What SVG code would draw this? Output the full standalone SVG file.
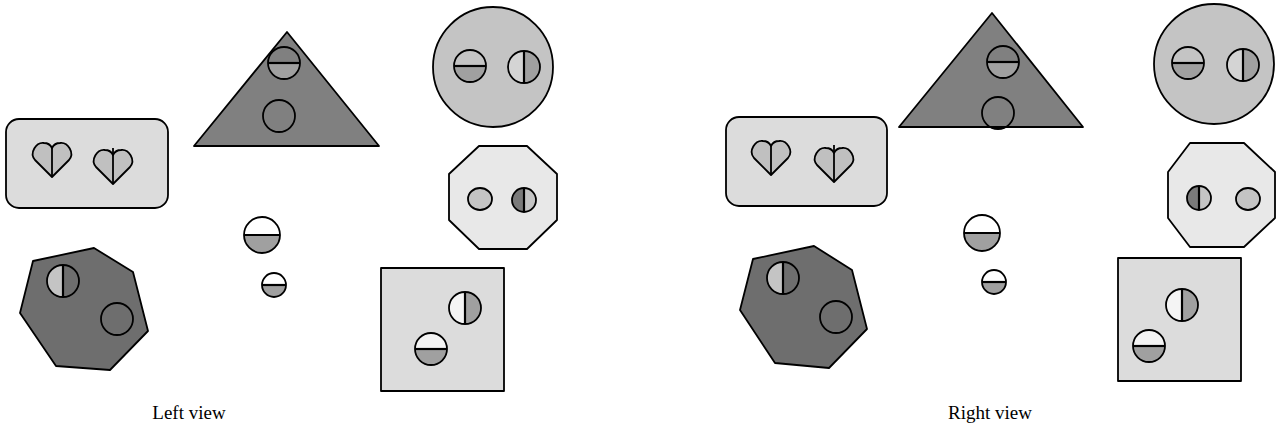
<svg xmlns="http://www.w3.org/2000/svg" width="1278" height="427" viewBox="0 0 1278 427">
<style>
.s{stroke:#000;stroke-width:1.8;stroke-linejoin:round}
.l{stroke:#000;stroke-width:2.2;fill:none}
.hl{stroke:#000;stroke-width:1.8;fill:none}
.o{fill:none;stroke:#000;stroke-width:1.8}
.lbl{font-family:"Liberation Serif","Times New Roman",serif;font-size:19px;fill:#000}
</style>
<defs>
<path id="heart" d="M0,30 L-17,13 C-23,6 -16,-5 -8,-4 C-4,-4 -1,-1 0,1 C1,-1 4,-4 8,-4 C16,-5 23,6 17,13 Z" fill="#c0c0c0" stroke="#000" stroke-width="1.8" stroke-linejoin="round"/>
<g id="hsplitT"><path d="M-16,0 A16,16 0 0 0 16,0 Z" fill="#a0a0a0"/><circle r="16" class="o"/><line x1="-16" y1="0" x2="16" y2="0" class="l"/></g>
<g id="vsplitC"><path d="M0,-16 A16,16 0 0 0 0,16 Z" fill="#d4d4d4"/><path d="M0,-16 A16,16 0 0 1 0,16 Z" fill="#a0a0a0"/><circle r="16" class="o"/><line x1="0" y1="-16" x2="0" y2="16" class="l"/></g>
<g id="hsplitW"><path d="M-16,0 A16,16 0 0 1 16,0 Z" fill="#f4f4f4"/><path d="M-16,0 A16,16 0 0 0 16,0 Z" fill="#a0a0a0"/><circle r="16" class="o"/><line x1="-16" y1="0" x2="16" y2="0" class="l"/></g>
<g id="vsplitW"><path d="M0,-16 A16,16 0 0 0 0,16 Z" fill="#f4f4f4"/><path d="M0,-16 A16,16 0 0 1 0,16 Z" fill="#a0a0a0"/><circle r="16" class="o"/><line x1="0" y1="-16" x2="0" y2="16" class="l"/></g>
<g id="vsplitH"><path d="M0,-16 A16,16 0 0 0 0,16 Z" fill="#c4c4c4"/><circle r="16" class="o"/><line x1="0" y1="-16" x2="0" y2="16" class="l"/></g>
<g id="oct2"><path d="M0,-12 A12,12 0 0 0 0,12 Z" fill="#7a7a7a"/><path d="M0,-12 A12,12 0 0 1 0,12 Z" fill="#c4c4c4"/><circle r="12" class="o"/><line x1="0" y1="-12" x2="0" y2="12" class="l"/></g>
<g id="big18"><path d="M-18,0 A18,18 0 0 1 18,0 Z" fill="#ffffff"/><path d="M-18,0 A18,18 0 0 0 18,0 Z" fill="#a0a0a0"/><circle r="18" class="o"/><line x1="-18" y1="0" x2="18" y2="0" class="l"/></g>
<g id="sm12"><path d="M-12,0 A12,12 0 0 1 12,0 Z" fill="#ffffff"/><path d="M-12,0 A12,12 0 0 0 12,0 Z" fill="#a0a0a0"/><circle r="12" class="o"/><line x1="-12" y1="0" x2="12" y2="0" class="l"/></g>
</defs>

<!-- LEFT VIEW -->
<g id="L-rect">
<rect x="6" y="119" width="162" height="89" rx="13" fill="#dcdcdc" class="s"/>
<use href="#heart" x="52" y="147"/><line x1="52" y1="148" x2="52" y2="177" class="hl"/>
<use href="#heart" x="113" y="154"/><line x1="113" y1="148" x2="113" y2="184" class="hl"/>
</g>
<g id="L-tri">
<polygon points="287,32 194,146 379,146" fill="#808080" class="s"/>
<use href="#hsplitT" x="284" y="63"/>
<circle cx="279" cy="116" r="16" class="o"/>
</g>
<g id="L-circ">
<circle cx="493" cy="67" r="60" fill="#c4c4c4" class="s"/>
<use href="#hsplitT" x="470" y="66"/>
<use href="#vsplitC" x="524" y="67"/>
</g>
<g id="L-oct">
<polygon points="479,146 527,146 557,174 557,220 527,249 479,249 449,220 449,174" fill="#e8e8e8" class="s"/>
<ellipse cx="480" cy="199" rx="12" ry="11" fill="#c4c4c4" class="s"/>
<use href="#oct2" x="524" y="200"/>
</g>
<g id="L-small">
<use href="#big18" x="262" y="235"/>
<use href="#sm12" x="274" y="285"/>
</g>
<g id="L-hept">
<polygon points="33,261 94,248 133,272 148,331 110,370 56,366 20,313" fill="#6e6e6e" class="s"/>
<use href="#vsplitH" x="63" y="281"/>
<circle cx="117" cy="319" r="16" class="o"/>
</g>
<g id="L-sq">
<rect x="381" y="268" width="123" height="123" fill="#dcdcdc" class="s"/>
<use href="#vsplitW" x="465" y="308"/>
<use href="#hsplitW" x="431" y="349"/>
</g>
<text x="189" y="419" text-anchor="middle" class="lbl">Left view</text>

<!-- RIGHT VIEW -->
<g id="R-rect">
<rect x="726" y="117" width="161" height="89" rx="13" fill="#dcdcdc" class="s"/>
<use href="#heart" x="771" y="145"/><line x1="771" y1="146" x2="771" y2="175" class="hl"/>
<use href="#heart" x="834" y="152"/><line x1="834" y1="145" x2="834" y2="182" class="hl"/>
</g>
<g id="R-tri">
<polygon points="992,13 899,127 1083,127" fill="#808080" class="s"/>
<use href="#hsplitT" x="1003" y="62"/>
<circle cx="998" cy="113" r="16" class="o"/>
</g>
<g id="R-circ">
<circle cx="1214" cy="64" r="60" fill="#c4c4c4" class="s"/>
<use href="#hsplitT" x="1188" y="63"/>
<use href="#vsplitC" x="1243" y="65"/>
</g>
<g id="R-oct">
<polygon points="1190,143 1244,143 1275,172 1275,218 1244,247 1190,247 1168,218 1168,172" fill="#e8e8e8" class="s"/>
<use href="#oct2" x="1199" y="198"/>
<ellipse cx="1248" cy="199" rx="12" ry="11" fill="#c4c4c4" class="s"/>
</g>
<g id="R-small">
<use href="#big18" x="982" y="233"/>
<use href="#sm12" x="994" y="282"/>
</g>
<g id="R-hept">
<polygon points="753,259 814,246 852,270 867,329 829,368 775,363 740,310" fill="#6e6e6e" class="s"/>
<use href="#vsplitH" x="783" y="278"/>
<circle cx="836" cy="317" r="16" class="o"/>
</g>
<g id="R-sq">
<rect x="1118" y="258" width="123" height="123" fill="#dcdcdc" class="s"/>
<use href="#vsplitW" x="1182" y="305"/>
<use href="#hsplitW" x="1149" y="346"/>
</g>
<text x="990" y="419" text-anchor="middle" class="lbl">Right view</text>
</svg>
